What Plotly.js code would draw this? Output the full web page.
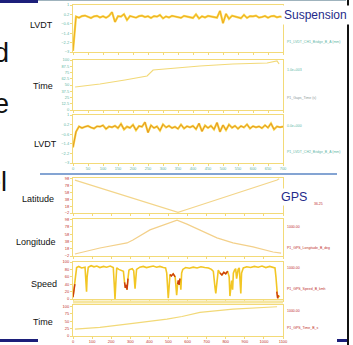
<!DOCTYPE html>
<html><head><meta charset="utf-8">
<script src="https://cdn.plot.ly/plotly-3.0.1.min.js"></script>
<style>html,body{margin:0;padding:0;background:#fff;overflow:hidden}#c{width:353px;height:345px}</style>
</head><body><div id="c"></div>
<script>
// ---------- DATA ----------
const lvdtT = [0,10,20,30,40,50,60,70,80,90,100,110,120,130,140,150,160,170,180,190,200,210,220,230,240,250,260,270,280,290,300,310,320,330,340,350,360,370,380,390,400,410,420,430,440,450,460,470,480,490,500,510,520,530,540,550,560,570,580,590,600,610,620,630,640,650,660,670,680,690,700];
const lvdt1 = [-2.9,0.02,-0.08,0.06,0.10,-0.04,-0.11,0.03,0.08,-0.06,
  0.04,-0.09,0.07,0.40,-0.45,0.05,0.02,0.22,-0.28,0.06,
  -0.03,-0.08,0.05,0.09,-0.02,0.04,-0.10,0.06,0.01,0.15,
  -0.14,0.03,-0.06,0.08,0.02,-0.05,-0.09,0.07,0.03,-0.04,
  -0.10,0.20,-0.15,0.04,-0.06,0.07,0.01,-0.05,-0.08,0.50,
  -0.55,0.25,-0.18,0.08,0.02,-0.06,-0.12,0.16,-0.10,0.05,
  0.03,0.09,-0.07,-0.02,0.06,-0.08,0.04,0.07,-0.05,0.02,-0.03];
const lvdt2 = [-1.7,-0.4,0.05,-0.08,0.02,0.09,-0.04,-0.12,0.06,0.03,
  0.14,-0.16,0.04,-0.02,0.10,-0.09,0.26,-0.20,0.03,-0.07,
  0.18,-0.26,0.08,0.02,0.40,-0.46,0.14,-0.08,0.05,-0.30,
  0.22,-0.04,0.10,-0.09,0.02,-0.15,0.20,-0.12,0.06,-0.03,
  0.09,-0.18,0.30,-0.36,0.12,-0.08,0.10,-0.20,0.36,-0.40,
  0.16,-0.25,0.20,-0.06,0.10,-0.14,0.08,-0.04,0.22,-0.12,
  0.07,-0.03,0.05,-0.10,0.15,-0.06,0.30,-0.20,0.04,-0.02,0.03];
const suspTimeT = [7,90,173,247,267,333,423,533,647,680,687];
const suspTime  = [46,52,60,68,80,84,88,92,94,98,92];

const gpsT = [10,100,200,300,400,500,550,600,700,800,900,1000,1069,1080];
const latitude = [94,78,61,44,26,9,0,9,27,45,63,82,94,98];
const lonT = [10,141,283,314,403,471,545,597,665,754,838,943,1048,1090];
const longitude = [3.5,20,34,42,70,83,97,86,70,48,34,23,9,6];

const speedT = [0,10,19,30,45,63,68,71,74,80,
  95,110,125,141,160,176,195,211,216,220,
  224,229,240,255,264,270,274,279,283,288,
  293,298,310,318,322,325,329,333,350,368,
  385,403,420,438,455,473,485,491,495,499,
  503,508,515,525,535,543,548,552,556,560,
  565,569,575,590,610,630,650,670,690,710,
  725,735,744,748,753,757,761,770,780,790,
  800,810,818,822,826,831,836,840,846,852,
  857,865,871,875,879,883,892,910,930,950,
  970,990,1010,1030,1045,1058,1063,1067,1072,1076,1082];
const speed = [5,40,85,88,84,86,50,20,60,86,
  90,87,89,85,88,86,89,85,40,0,
  40,84,80,78,75,45,30,38,25,55,
  78,80,82,76,50,28,55,80,86,88,
  85,87,89,86,88,85,84,70,30,2,
  30,66,62,68,60,10,40,50,38,55,
  25,70,80,85,83,86,84,87,85,84,
  80,75,30,15,40,60,78,70,65,72,
  68,75,60,8,40,50,25,70,78,82,
  55,80,84,45,15,70,84,87,85,88,
  86,89,85,88,86,84,60,20,2,10,5];
const speedRedT = [0,5,10,null,270,274,279,283,288,null,508,515,525,535,null,548,552,556,560,null,770,780,790,800,810,null,1067,1072,1076];
const speedRed  = [5,20,40,null,45,30,38,25,55,null,66,62,68,60,null,40,50,38,55,null,70,65,72,68,75,null,20,2,10];

const gpsTimeT = [10,141,314,403,492,571,665,838,1016,1069];
const gpsTime  = [23,29,43,49,57,66,80,91,97,99];

const rowLabels = ["LVDT","Time","LVDT","Latitude","Longitude","Speed","Time"];
const suspTickColor = "#5fb8a6", gpsTickColor = "#c0302a";

// ---------- LAYOUT HELPERS ----------
const W = 353, H = 345;
const px = v => v / W, py = v => 1 - v / H;
const boxes = [[5,52],[60,110],[115,163],[178,213],[219,256],[262,299],[305,336]];
const border = "#f3da78";

const layout = {
  width: W, height: H, margin: {l:0,r:0,t:0,b:0},
  paper_bgcolor: "#ffffff", plot_bgcolor: "#ffffff",
  showlegend: false, font: {family: "Liberation Sans, Arial, sans-serif"},
  annotations: [], shapes: []
};
const yRanges = [[-3,1],[0,100],[-3,1],[-2,100],[-2,100],[0,100],[0,105]];
const yDt = [0.8,12.5,0.8,20,20,20,25];
const labelX = [41,43,45,38,36,44,43];
const labelY = [25,86,144,199,242,284,322];
boxes.forEach((b,i) => {
  const n = i+1, gps = i >= 3;
  const tc = gps ? gpsTickColor : suspTickColor;
  const showX = (i === 2 || i === 6);
  layout["xaxis"+n] = {
    domain: [px(73), px(283)], anchor: "y"+n,
    range: gps ? [0,1100] : [0,700], dtick: gps ? 100 : 50,
    showgrid: false, zeroline: false, showline: true, mirror: true,
    linecolor: border, linewidth: 1, ticks: "outside", ticklen: 1.5, tickcolor: border,
    showticklabels: showX, tickfont: {size: 4, color: tc}
  };
  layout["yaxis"+n] = {
    domain: [py(b[1]), py(b[0])], anchor: "x"+n,
    range: yRanges[i], dtick: yDt[i], tick0: yRanges[i][0],
    showgrid: false, zeroline: false, showline: true, mirror: true,
    linecolor: border, linewidth: 1, ticks: "outside", ticklen: 2, tickcolor: border,
    tickfont: {size: 4, color: tc}
  };
  layout.annotations.push({
    text: rowLabels[i], xref: "paper", yref: "paper",
    x: px(labelX[i]), y: py(labelY[i]),
    xanchor: "center", yanchor: "middle", showarrow: false,
    font: {size: 9, color: "#111"}
  });
});

function ann(text, x, y, size, color, extra) {
  layout.annotations.push(Object.assign({
    text: text, xref: "paper", yref: "paper", x: px(x), y: py(y),
    xanchor: "left", yanchor: "middle", showarrow: false,
    font: {size: size, color: color}
  }, extra || {}));
}
// slide text fragments
ann("d", 11, 53, 27, "#111", {xanchor: "right"});
ann("e", 11, 104, 27, "#111", {xanchor: "right"});
ann("el", 9, 182, 27, "#111", {xanchor: "right"});
// section titles
ann("Suspension", 281, 15, 12, "#1f2a8a", {bgcolor: "#ffffff", borderpad: 2});
ann("GPS", 279, 197, 12.5, "#1f2a8a", {bgcolor: "#ffffff", borderpad: 1});
// tiny channel captions on the right
ann("P1_LVDT_CH1_Bridge_B_A (mm)", 285, 42, 3.5, suspTickColor);
ann("1.0e+003", 285, 70, 3.5, suspTickColor);
ann("P1_Gaps_Time (s)", 285, 98, 3.5, "#8a9a9a");
ann("0.0e+000", 285, 126, 3.5, suspTickColor);
ann("P1_LVDT_CH2_Bridge_B_A (mm)", 285, 152, 3.5, suspTickColor);
ann("36.25", 312, 204, 3.5, gpsTickColor);
ann("1000.00", 285, 227, 3.5, gpsTickColor);
ann("P1_GPS_Longitude_B_deg", 285, 248, 3.5, gpsTickColor);
ann("1000.00", 285, 268, 3.5, gpsTickColor);
ann("P1_GPS_Speed_B_kmh", 285, 289, 3.5, gpsTickColor);
ann("1000.00", 285, 311, 3.5, gpsTickColor);
ann("P1_GPS_Time_B_s", 285, 328, 3.5, gpsTickColor);

function rect(x0,y0,x1,y1,color){
  layout.shapes.push({type:"rect", xref:"paper", yref:"paper", x0:px(x0), x1:px(x1), y0:py(y1), y1:py(y0), fillcolor:color, line:{width:0}});
}
function line(x0,y0,x1,y1,color,w){
  layout.shapes.push({type:"line", xref:"paper", yref:"paper", x0:px(x0), x1:px(x1), y0:py(y0), y1:py(y1), line:{color:color, width:w}});
}
rect(0,0,38,3,"#1c1f7a");
line(38,0.5,346,0.5,"#9fb3bd",1);
line(40,174,337,174,"#5b86c5",1.5);
line(348,0,348,345,"#111111",2);
rect(0,339,38,342,"#1c1f7a");
rect(337,339,347,342,"#1c1f7a");
line(73,302,283,302,"#f6e6a0",3);

// ---------- TRACES ----------
const traces = [
  {x: lvdtT, y: lvdt1, xaxis:"x1", yaxis:"y1", mode:"lines", line:{color:"#f7d84a", width:2.2}},
  {x: lvdtT, y: lvdt1, xaxis:"x1", yaxis:"y1", mode:"lines", line:{color:"#ee9a10", width:0.7}},
  {x: suspTimeT, y: suspTime, xaxis:"x2", yaxis:"y2", mode:"lines", line:{color:"#f2d978", width:1.2}},
  {x: lvdtT, y: lvdt2, xaxis:"x3", yaxis:"y3", mode:"lines", line:{color:"#f7d84a", width:2.2}},
  {x: lvdtT, y: lvdt2, xaxis:"x3", yaxis:"y3", mode:"lines", line:{color:"#e07a10", width:0.7}},
  {x: gpsT, y: latitude, xaxis:"x4", yaxis:"y4", mode:"lines", line:{color:"#f3d58a", width:1.2}},
  {x: lonT, y: longitude, xaxis:"x5", yaxis:"y5", mode:"lines", line:{color:"#f3d08a", width:1.2}},
  {x: speedT, y: speed, xaxis:"x6", yaxis:"y6", mode:"lines", line:{color:"#f2c624", width:1.6}},
  {x: speedRedT, y: speedRed, xaxis:"x6", yaxis:"y6", mode:"lines", connectgaps:false, line:{color:"#cc3a10", width:1.4}},
  {x: gpsTimeT, y: gpsTime, xaxis:"x7", yaxis:"y7", mode:"lines", line:{color:"#f2d978", width:1.2}}
];
Plotly.newPlot("c", traces, layout, {staticPlot: true, displayModeBar: false});
</script></body></html>
